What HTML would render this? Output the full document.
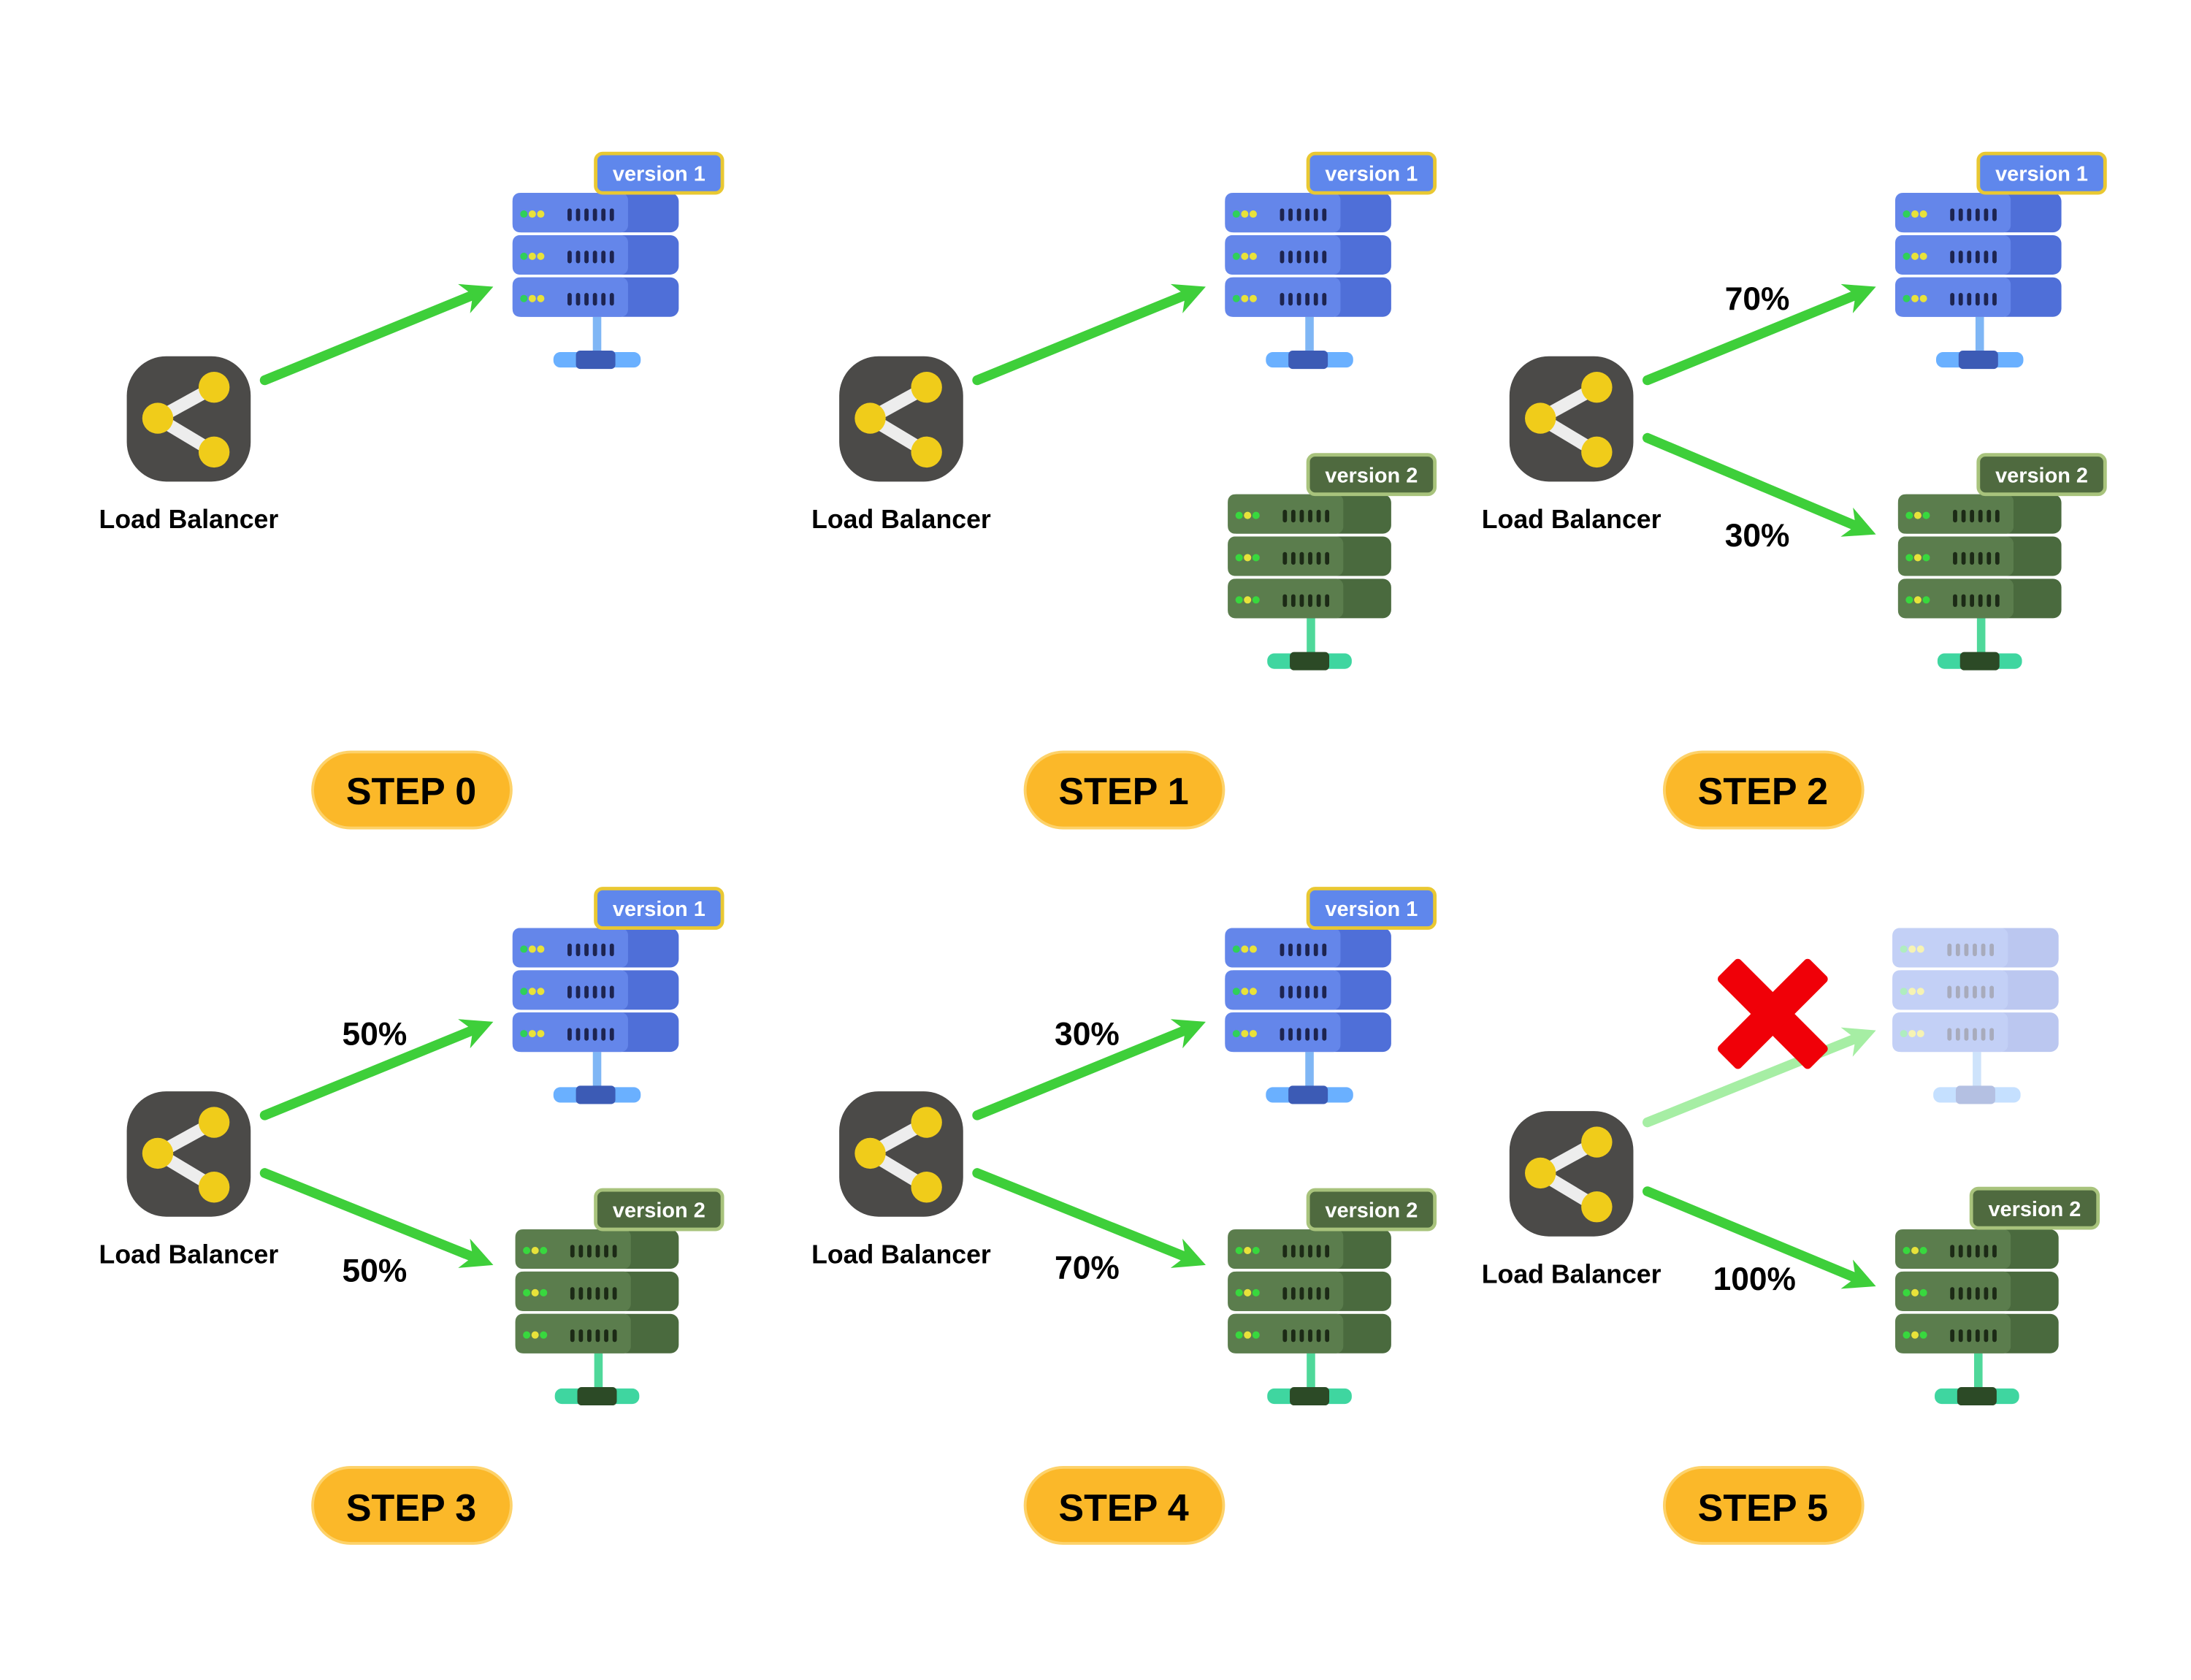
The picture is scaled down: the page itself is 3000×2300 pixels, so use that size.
<!DOCTYPE html>
<html><head><meta charset="utf-8"><style>
html,body{margin:0;padding:0;background:#fff;width:3000px;height:2300px;overflow:hidden}
svg{display:block}
text{font-family:"Liberation Sans",sans-serif}
</style></head><body>
<svg width="3000" height="2300" viewBox="0 0 1556 1193" xmlns="http://www.w3.org/2000/svg">
<defs>
 <g id="unitB">
  <rect x="0" y="0" width="118" height="28" rx="6" fill="#4f6fd8"/>
  <rect x="0" y="0" width="82" height="28" rx="5" fill="#6486ea"/>
  <circle cx="8" cy="15" r="2.6" fill="#2fd05a"/><circle cx="14" cy="15" r="2.6" fill="#e8e23a"/><circle cx="20" cy="15" r="2.6" fill="#e8e23a"/>
  <g fill="#1d2450"><rect x="39" y="11" width="3" height="9" rx="1.5"/><rect x="45" y="11" width="3" height="9" rx="1.5"/><rect x="51" y="11" width="3" height="9" rx="1.5"/><rect x="57" y="11" width="3" height="9" rx="1.5"/><rect x="63" y="11" width="3" height="9" rx="1.5"/><rect x="69" y="11" width="3" height="9" rx="1.5"/></g>
 </g>
 <g id="srvB">
  <rect x="57" y="88" width="6" height="30" fill="#7fb6f5"/>
  <rect x="29" y="113" width="62" height="11" rx="5" fill="#6ab0ff"/>
  <rect x="45" y="112" width="28" height="13" rx="3" fill="#3c5bb5"/>
  <use href="#unitB" y="0"/><use href="#unitB" y="30"/><use href="#unitB" y="60"/>
 </g>
 <g id="unitG">
  <rect x="0" y="0" width="116" height="28" rx="6" fill="#4a6a3e"/>
  <rect x="0" y="0" width="82" height="28" rx="5" fill="#5b7d4d"/>
  <circle cx="8" cy="15" r="2.6" fill="#38d83e"/><circle cx="14" cy="15" r="2.6" fill="#e8e23a"/><circle cx="20" cy="15" r="2.6" fill="#38d83e"/>
  <g fill="#1c2a16"><rect x="39" y="11" width="3" height="9" rx="1.5"/><rect x="45" y="11" width="3" height="9" rx="1.5"/><rect x="51" y="11" width="3" height="9" rx="1.5"/><rect x="57" y="11" width="3" height="9" rx="1.5"/><rect x="63" y="11" width="3" height="9" rx="1.5"/><rect x="69" y="11" width="3" height="9" rx="1.5"/></g>
 </g>
 <g id="srvG">
  <rect x="56" y="88" width="6" height="30" fill="#4fd89a"/>
  <rect x="28" y="113" width="60" height="11" rx="5" fill="#3fd6a0"/>
  <rect x="44" y="112" width="28" height="13" rx="3" fill="#2c4a26"/>
  <use href="#unitG" y="0"/><use href="#unitG" y="30"/><use href="#unitG" y="60"/>
 </g>
 <g id="lb">
  <rect x="0" y="0" width="88" height="89" rx="28" fill="#4b4a48"/>
  <line x1="22" y1="44" x2="62" y2="22" stroke="#ededed" stroke-width="9"/>
  <line x1="22" y1="44" x2="62" y2="68" stroke="#ededed" stroke-width="9"/>
  <circle cx="62" cy="22" r="11" fill="#f0cc1a"/><circle cx="22" cy="44" r="11" fill="#f0cc1a"/><circle cx="62" cy="68" r="11" fill="#f0cc1a"/>
 </g>
 <g id="tagB"><rect x="0" y="0" width="90" height="28" rx="5" fill="#5f87ec" stroke="#e9c832" stroke-width="2.5"/><text x="45" y="19.5" text-anchor="middle" font-size="15" fill="#fff">version 1</text></g>
 <g id="tagG"><rect x="0" y="0" width="90" height="28" rx="5" fill="#4f6a3f" stroke="#a8c37c" stroke-width="2.5"/><text x="45" y="19.5" text-anchor="middle" font-size="15" fill="#fff">version 2</text></g>
 <marker id="ah" viewBox="0 0 10 10" refX="6" refY="5" markerWidth="3.2" markerHeight="3.2" orient="auto"><path d="M0,0 L10,5 L0,10 L3,5 Z" fill="#3ecf3a"/></marker>
 <marker id="ahf" viewBox="0 0 10 10" refX="6" refY="5" markerWidth="3.2" markerHeight="3.2" orient="auto"><path d="M0,0 L10,5 L0,10 L3,5 Z" fill="#a6eea4"/></marker>
</defs>

<g font-weight="bold">
<!-- Step 0 -->
<use href="#lb" x="90" y="253"/>
<text x="134" y="375" text-anchor="middle" font-size="18.5">Load Balancer</text>
<use href="#srvB" x="364" y="137"/><use href="#tagB" x="423" y="109"/>
<line x1="188" y1="270" x2="342" y2="207" stroke="#3ecf3a" stroke-width="7" stroke-linecap="round" marker-end="url(#ah)"/>

<!-- Step 1 -->
<use href="#lb" x="596" y="253"/>
<text x="640" y="375" text-anchor="middle" font-size="18.5">Load Balancer</text>
<use href="#srvB" x="870" y="137"/><use href="#tagB" x="929" y="109"/>
<use href="#srvG" x="872" y="351"/><use href="#tagG" x="929" y="323"/>
<line x1="694" y1="270" x2="848" y2="207" stroke="#3ecf3a" stroke-width="7" stroke-linecap="round" marker-end="url(#ah)"/>

<!-- Step 2 -->
<use href="#lb" x="1072" y="253"/>
<text x="1116" y="375" text-anchor="middle" font-size="18.5">Load Balancer</text>
<use href="#srvB" x="1346" y="137"/><use href="#tagB" x="1405" y="109"/>
<use href="#srvG" x="1348" y="351"/><use href="#tagG" x="1405" y="323"/>
<line x1="1170" y1="270" x2="1324" y2="207" stroke="#3ecf3a" stroke-width="7" stroke-linecap="round" marker-end="url(#ah)"/>
<line x1="1170" y1="311" x2="1324" y2="376" stroke="#3ecf3a" stroke-width="7" stroke-linecap="round" marker-end="url(#ah)"/>
<text x="1248" y="220" text-anchor="middle" font-size="23">70%</text>
<text x="1248" y="388" text-anchor="middle" font-size="23">30%</text>

<!-- Step 3 -->
<use href="#lb" x="90" y="775"/>
<text x="134" y="897" text-anchor="middle" font-size="18.5">Load Balancer</text>
<use href="#srvB" x="364" y="659"/><use href="#tagB" x="423" y="631"/>
<use href="#srvG" x="366" y="873"/><use href="#tagG" x="423" y="845"/>
<line x1="188" y1="792" x2="342" y2="729" stroke="#3ecf3a" stroke-width="7" stroke-linecap="round" marker-end="url(#ah)"/>
<line x1="188" y1="833" x2="342" y2="895" stroke="#3ecf3a" stroke-width="7" stroke-linecap="round" marker-end="url(#ah)"/>
<text x="266" y="742" text-anchor="middle" font-size="23">50%</text>
<text x="266" y="910" text-anchor="middle" font-size="23">50%</text>

<!-- Step 4 -->
<use href="#lb" x="596" y="775"/>
<text x="640" y="897" text-anchor="middle" font-size="18.5">Load Balancer</text>
<use href="#srvB" x="870" y="659"/><use href="#tagB" x="929" y="631"/>
<use href="#srvG" x="872" y="873"/><use href="#tagG" x="929" y="845"/>
<line x1="694" y1="792" x2="848" y2="729" stroke="#3ecf3a" stroke-width="7" stroke-linecap="round" marker-end="url(#ah)"/>
<line x1="694" y1="833" x2="848" y2="895" stroke="#3ecf3a" stroke-width="7" stroke-linecap="round" marker-end="url(#ah)"/>
<text x="772" y="742" text-anchor="middle" font-size="23">30%</text>
<text x="772" y="908" text-anchor="middle" font-size="23">70%</text>

<!-- Step 5 -->
<use href="#lb" x="1072" y="789"/>
<text x="1116" y="911" text-anchor="middle" font-size="18.5">Load Balancer</text>
<g opacity="0.38"><use href="#srvB" x="1344" y="659"/></g>
<use href="#srvG" x="1346" y="873"/><use href="#tagG" x="1400" y="844"/>
<line x1="1170" y1="797" x2="1324" y2="735" stroke="#a6eea4" stroke-width="7" stroke-linecap="round" marker-end="url(#ahf)"/>
<line x1="1170" y1="846" x2="1324" y2="910" stroke="#3ecf3a" stroke-width="7" stroke-linecap="round" marker-end="url(#ah)"/>
<text x="1246" y="916" text-anchor="middle" font-size="23">100%</text>
<g transform="translate(1259,720) rotate(45)"><rect x="-46" y="-11" width="92" height="22" rx="3" fill="#f00008"/><rect x="-11" y="-46" width="22" height="92" rx="3" fill="#f00008"/></g>

<!-- Badges -->
<g font-size="27">
<rect x="222" y="534" width="141" height="54" rx="27" fill="#fbb829" stroke="#fdd26a" stroke-width="2"/><text x="292" y="571" text-anchor="middle">STEP 0</text>
<rect x="728" y="534" width="141" height="54" rx="27" fill="#fbb829" stroke="#fdd26a" stroke-width="2"/><text x="798" y="571" text-anchor="middle">STEP 1</text>
<rect x="1182" y="534" width="141" height="54" rx="27" fill="#fbb829" stroke="#fdd26a" stroke-width="2"/><text x="1252" y="571" text-anchor="middle">STEP 2</text>
<rect x="222" y="1042" width="141" height="54" rx="27" fill="#fbb829" stroke="#fdd26a" stroke-width="2"/><text x="292" y="1080" text-anchor="middle">STEP 3</text>
<rect x="728" y="1042" width="141" height="54" rx="27" fill="#fbb829" stroke="#fdd26a" stroke-width="2"/><text x="798" y="1080" text-anchor="middle">STEP 4</text>
<rect x="1182" y="1042" width="141" height="54" rx="27" fill="#fbb829" stroke="#fdd26a" stroke-width="2"/><text x="1252" y="1080" text-anchor="middle">STEP 5</text>
</g>
</g>
</svg>
</body></html>
